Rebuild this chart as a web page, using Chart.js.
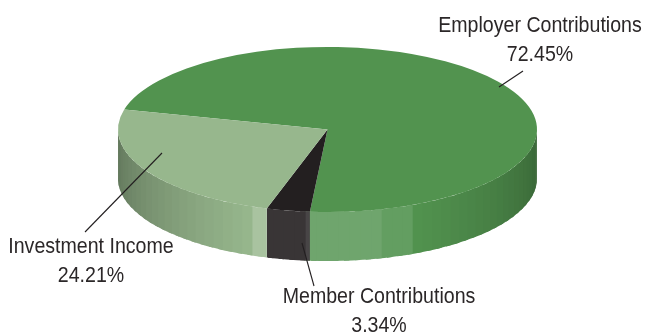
<!DOCTYPE html>
<html>
<head>
<meta charset="utf-8">
<style>
  html, body { margin: 0; padding: 0; background: #fff; }
  #wrap { width: 645px; height: 333px; }
</style>
<script src="https://cdn.jsdelivr.net/npm/chart.js@4"></script>
</head>
<body>
<div id="wrap"><canvas id="pie" width="645" height="333"></canvas></div>
<script>
// ── Data ──
const categories = ['Employer Contributions', 'Member Contributions', 'Investment Income'];
const shares = [72.45, 3.34, 24.21];
const shareLabels = ['72.45%', '3.34%', '24.21%'];

// ── Look ──
const sliceColors = ['#52934f', '#231f20', '#97b78d'];
const TILT = 0.394;       // squash of the disc
const DEPTH = 49;         // rim height
const FONT = "22px 'Liberation Sans', sans-serif";
const CONDENSE = 0.89;    // labels run a little narrow
const LINE_GAP = 29;

// text block and leader for each slice, same order as categories
const callouts = [
  { x: 540, y: 32,  line: [499, 87, 523, 71] },
  { x: 379, y: 303, line: [302, 243, 314, 286] },
  { x: 91,  y: 253, line: [162, 153, 85, 232] },
];

// rim lighting: tint > 0 goes toward white, tint < 0 toward black
function rimTint(deg) {
  if (deg < 66) return -0.32 * (1 - deg / 66);
  if (deg < 75) return 0.10;
  if (deg < 97) return 0.17;
  if (deg < 107) return 0.10;
  if (deg < 111) return 0.17;
  return -0.37 * (deg - 111) / 69;
}

function shade(hex, tint) {
  const n = parseInt(hex.slice(1), 16);
  const mix = c => Math.round(tint > 0 ? c + (255 - c) * tint : c * (1 + tint));
  return `rgb(${mix(n >> 16)},${mix((n >> 8) & 255)},${mix(n & 255)})`;
}

function narrowText(ctx, text, x, y) {
  ctx.fillText(text, x, y, ctx.measureText(text).width * CONDENSE);
}

// ── Plugins ──
const discPlugin = {
  id: 'disc',
  beforeDatasetsDraw(chart) {
    const { ctx } = chart;
    const arcs = chart.getDatasetMeta(0).data;
    const { x: cx, y: cy, outerRadius: rx } = arcs[0];
    const ry = rx * TILT;
    const step = 3;

    // rim first, one narrow band at a time; bands snap to the step so
    // none straddles the 0/180 turnover
    arcs.forEach((arc, i) => {
      const from = arc.startAngle * 180 / Math.PI;
      const to = arc.endAngle * 180 / Math.PI;
      let a = from;
      while (a < to) {
        const b = Math.min((Math.floor(a / step + 1e-6) + 1) * step, to);
        const mid = ((a + b) / 2) % 360;
        if (mid <= 180) {
          const lo = a * Math.PI / 180;
          const hi = (i === 0 || b < to ? b + 1.5 : b) * Math.PI / 180;
          ctx.beginPath();
          ctx.ellipse(cx, cy, rx, ry, 0, lo, hi);
          ctx.ellipse(cx, cy + DEPTH, rx, ry, 0, hi, lo, true);
          ctx.closePath();
          ctx.fillStyle = shade(sliceColors[i], rimTint(mid));
          ctx.fill();
        }
        a = b;
      }
    });

    // top face: the library's own arcs, squashed
    ctx.save();
    ctx.translate(cx, cy);
    ctx.scale(1, TILT);
    ctx.translate(-cx, -cy);
  },
  afterDatasetsDraw(chart) {
    const { ctx } = chart;
    ctx.restore();

    ctx.font = FONT;
    ctx.fillStyle = '#2b2728';
    ctx.textAlign = 'center';
    ctx.textBaseline = 'alphabetic';
    ctx.strokeStyle = '#231f20';
    ctx.lineWidth = 1.1;
    callouts.forEach((c, i) => {
      narrowText(ctx, categories[i], c.x, c.y);
      narrowText(ctx, shareLabels[i], c.x, c.y + LINE_GAP);
      ctx.beginPath();
      ctx.moveTo(c.line[0], c.line[1]);
      ctx.lineTo(c.line[2], c.line[3]);
      ctx.stroke();
    });
  },
};

// ── Chart ──
new Chart(document.getElementById('pie').getContext('2d'), {
  type: 'pie',
  data: {
    labels: categories,
    datasets: [{
      data: shares,
      backgroundColor: sliceColors,
      borderWidth: 0,
      clip: false,
    }],
  },
  options: {
    responsive: false,
    animation: false,
    rotation: 284,
    radius: 209.5,
    layout: { padding: { left: 10, bottom: 74 } },
    plugins: {
      legend: { display: false },
      tooltip: { enabled: false },
    },
  },
  plugins: [discPlugin],
});
</script>
</body>
</html>
